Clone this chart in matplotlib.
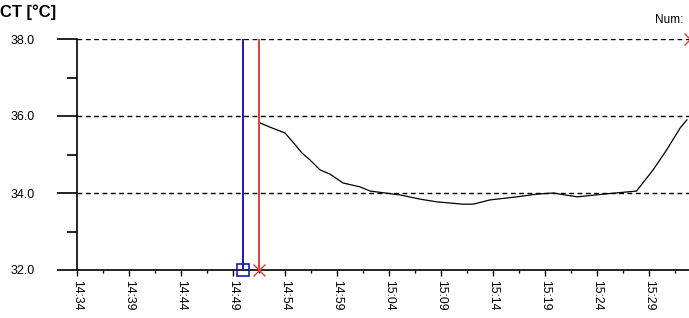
import matplotlib
matplotlib.use("Agg")
import matplotlib.pyplot as plt
from matplotlib.ticker import MultipleLocator

plt.rcParams['font.family'] = ['Liberation Sans', 'DejaVu Sans']

# minutes since 14:34
t_min = [17.6, 18.56, 20.0, 20.77, 21.63, 22.4, 23.37, 24.33, 25.58, 27.2, 28.2,
         31.06, 33.0, 34.6, 37.1, 38.1, 39.7, 42.3, 44.2, 45.8, 48.1, 50.6, 53.8,
         55.4, 56.7, 58.0, 58.65]
ct = [35.82, 35.71, 35.56, 35.32, 35.04, 34.86, 34.60, 34.49, 34.26, 34.16, 34.05,
      33.95, 33.84, 33.77, 33.71, 33.71, 33.82, 33.90, 33.97, 34.0, 33.90, 33.97, 34.05,
      34.60, 35.12, 35.69, 35.90]

tick_pos = [0, 5, 10, 15, 20, 25, 30, 35, 40, 45, 50, 55]
tick_labels = ["14:34", "14:39", "14:44", "14:49", "14:54", "14:59",
               "15:04", "15:09", "15:14", "15:19", "15:24", "15:29"]
y_ticks = [32.0, 34.0, 36.0, 38.0]
grid_levels = [34.0, 36.0, 38.0]

cursor_blue = 15.96
cursor_red = 17.5
red_mark_top = (58.95, 38.0)

fig = plt.figure(figsize=(6.89, 3.18), dpi=100)
ax = fig.add_axes([77/689, 48/318, 1 - 77/689, (270-39)/318])

ax.set_xlim(0, 58.85)
ax.set_ylim(32, 38)

for g in grid_levels:
    ax.axhline(g, color='black', lw=1.0, ls=(0, (3.5, 2.5)), zorder=1)

ax.plot(t_min, ct, color='black', lw=0.9, zorder=3)

ax.axvline(cursor_blue, color='#1a1ab4', lw=1.4, zorder=4)
ax.axvline(cursor_red, color='#d94040', lw=1.4, zorder=4)
ax.plot([cursor_blue], [32], marker='s', ms=9, mfc='none', mec='#1a1ab4', mew=1.2,
        clip_on=False, zorder=5)
ax.plot([cursor_red], [32], marker='x', ms=9, color='#d94040', mew=1.0,
        clip_on=False, zorder=5)
ax.plot([red_mark_top[0]], [red_mark_top[1]], marker='x', ms=9, color='#d94040', mew=1.0,
        clip_on=False, zorder=5)

for s in ['top', 'right']:
    ax.spines[s].set_visible(False)
for s in ['left', 'bottom']:
    ax.spines[s].set_linewidth(1.2)

ax.set_xticks(tick_pos)
ax.set_xticklabels(tick_labels, rotation=-90, fontsize=8.8)
ax.xaxis.set_minor_locator(MultipleLocator(2.5))
ax.set_yticks(y_ticks)
ax.set_yticklabels([f"{v:.1f}" for v in y_ticks], fontsize=9)
ax.yaxis.set_minor_locator(MultipleLocator(1.0))

ax.tick_params(axis='x', which='major', length=4.3, width=1.0, pad=3, direction='out')
ax.tick_params(axis='x', which='minor', length=2.2, width=1.0, direction='out')
ax.tick_params(axis='y', which='major', length=14.4, width=1.2, pad=16, direction='out')
ax.tick_params(axis='y', which='minor', length=7.2, width=1.2, direction='out')

fig.text(0.0, 1 - 12/318, "CT [°C]", fontsize=12, fontweight='bold', va='center', ha='left')
fig.text(683/689, 1 - 20/318, "Num:", fontsize=8.5, va='center', ha='right')

fig.savefig("out.png", dpi=100)
